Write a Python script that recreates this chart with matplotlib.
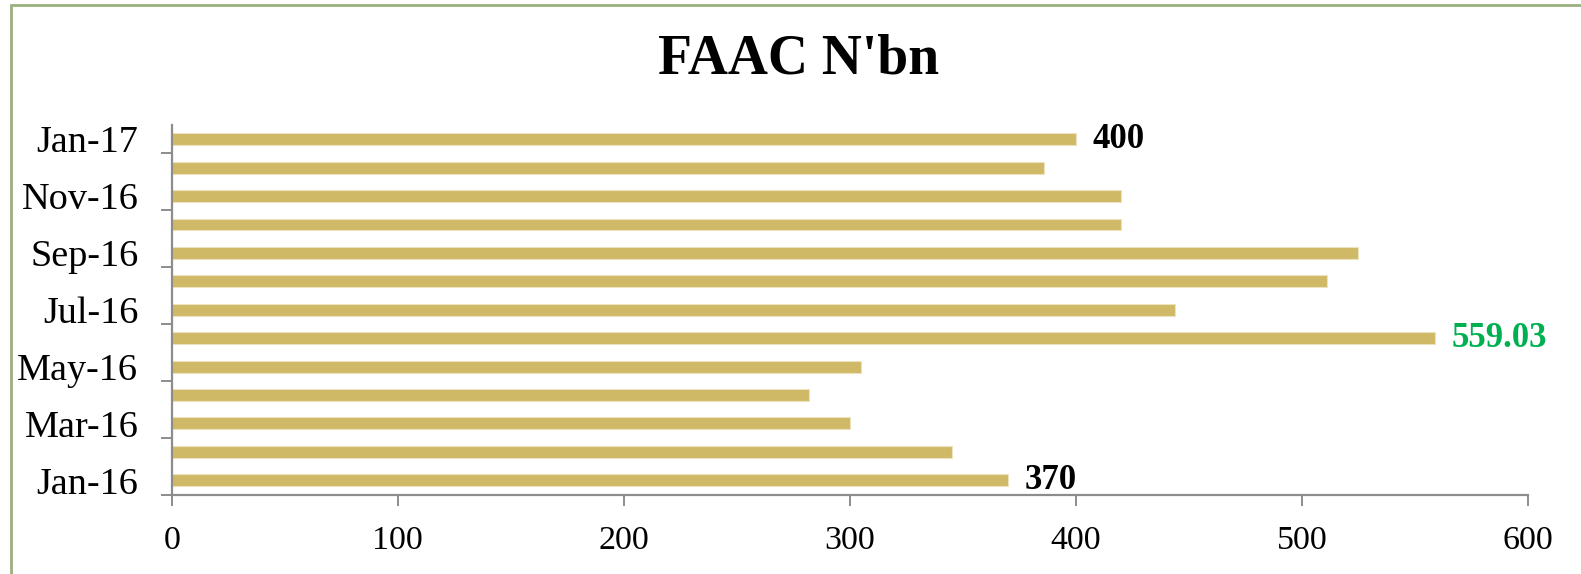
import matplotlib
matplotlib.use("Agg")
import matplotlib.pyplot as plt
from matplotlib.patches import Rectangle

# ---- data ----
months = ["Jan-16", "Feb-16", "Mar-16", "Apr-16", "May-16", "Jun-16", "Jul-16",
          "Aug-16", "Sep-16", "Oct-16", "Nov-16", "Dec-16", "Jan-17"]
faac_bn = [370, 345, 300, 282, 305, 559.03, 444, 511, 525, 420, 420, 386, 400]
label_months = {"Jan-16": ("370", "black"), "Jun-16": ("559.03", "#00B050"),
                "Jan-17": ("400", "black")}
x_ticks = [0, 100, 200, 300, 400, 500, 600]
title = "FAAC N'bn"

W, H = 1581, 574
DPI = 100
plt.rcParams['font.family'] = ['Liberation Serif', 'DejaVu Serif']

fig = plt.figure(figsize=(W / DPI, H / DPI), dpi=DPI)
fig.patch.set_facecolor("white")

ax = fig.add_axes([171.7 / W, 1 - 494.5 / H, (1528 - 171.7) / W, (494.5 - 125) / H])

ypos = list(range(len(months)))
ax.barh(ypos, faac_bn, height=0.42, color="#CFB967", edgecolor="#EDE3BE",
        linewidth=0.8, zorder=2)

ax.set_xlim(0, 600)
ax.set_ylim(-0.5, len(months) - 0.5)

gray = "#8C8C8C"
for s in ["top", "right"]:
    ax.spines[s].set_visible(False)
for s in ["left", "bottom"]:
    ax.spines[s].set_color(gray)
    ax.spines[s].set_linewidth(1.6)
    ax.spines[s].set_zorder(3)

# x ticks
ax.set_xticks(x_ticks)
ax.set_xticklabels([str(v) for v in x_ticks], fontsize=24.5)
ax.tick_params(axis="x", direction="out", length=8, width=1.4, color=gray,
               pad=14, labelcolor="black")

# y: major ticks at boundaries, labels as minor ticks every other month
major_y = [i + 0.5 for i in range(-1, len(months) - 1, 2)]
ax.set_yticks(major_y)
ax.set_yticklabels([])
ax.tick_params(axis="y", which="major", direction="out", length=8, width=1.4, color=gray)
minor_y = list(range(0, len(months), 2))
ax.set_yticks(minor_y, minor=True)
ax.set_yticklabels([months[i] for i in minor_y], minor=True, fontsize=27.5)
ax.tick_params(axis="y", which="minor", length=0, pad=24, labelcolor="black")

# data labels
for i, m in enumerate(months):
    if m in label_months:
        txt, col = label_months[m]
        ax.annotate(txt, xy=(faac_bn[i], i), xytext=(12, 0), textcoords="offset points",
                    ha="left", va="center", fontsize=25, fontweight="bold",
                    color=col, annotation_clip=False)

fig.text(798.5 / W, 1 - 59 / H, title, ha="center", va="center", fontsize=40,
         fontweight="bold", color="black")

# chart frame (only top/left visible)
fig.patches.append(Rectangle((11 / W, -0.1), 1.2, (H - 5.5) / H + 0.1,
                             transform=fig.transFigure, fill=False,
                             edgecolor="#9BB07F", linewidth=2.0, zorder=0))

fig.savefig("out.png", dpi=DPI, facecolor="white")
